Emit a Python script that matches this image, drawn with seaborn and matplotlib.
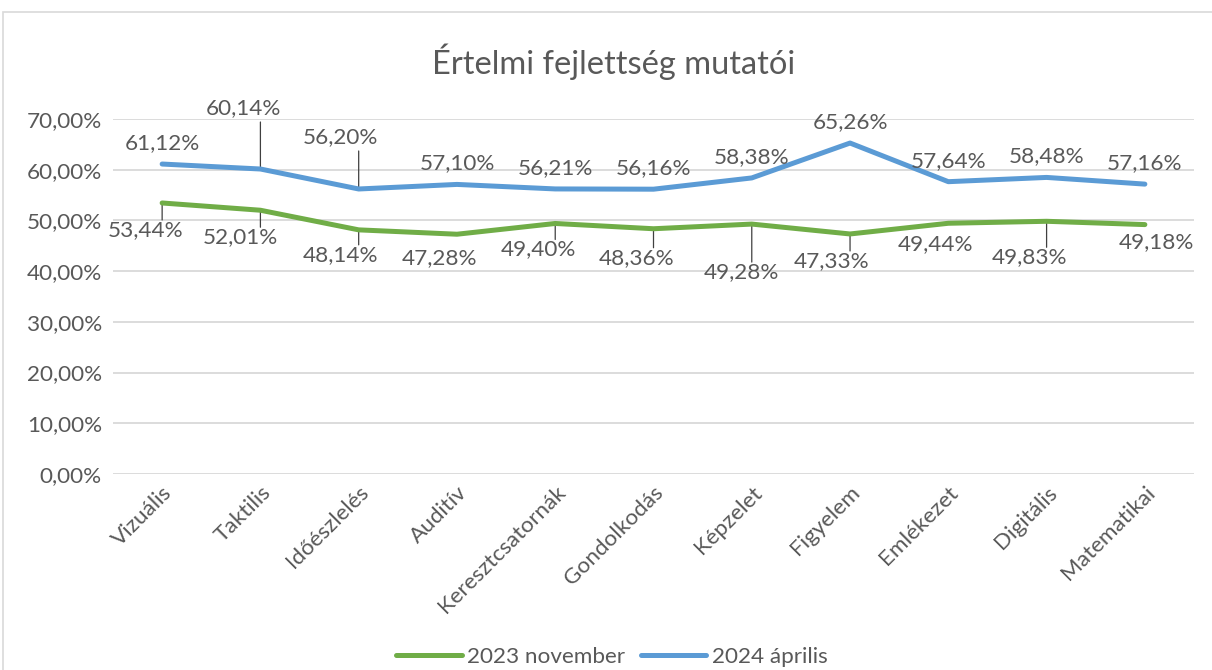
import numpy as np
import pandas as pd
import matplotlib
matplotlib.use("Agg")
import matplotlib.pyplot as plt
import matplotlib.transforms as mtransforms
from matplotlib.patches import Rectangle
from matplotlib.lines import Line2D
import seaborn as sns

# ---- data ----
categories = ["Vizuális", "Taktilis", "Időészlelés", "Auditív", "Keresztcsatornák",
              "Gondolkodás", "Képzelet", "Figyelem", "Emlékezet", "Digitális", "Matematikai"]
nov2023 = [53.44, 52.01, 48.14, 47.28, 49.40, 48.36, 49.28, 47.33, 49.44, 49.83, 49.18]
apr2024 = [61.12, 60.14, 56.20, 57.10, 56.21, 56.16, 58.38, 65.26, 57.64, 58.48, 57.16]
series_names = ["2023 november", "2024 április"]
y_ticks = [0, 10, 20, 30, 40, 50, 60, 70]

# ---- label placement (pixel offsets, leader flags) ----
green_off = [(-17, -27), (-20, -27), (-18, -25), (-17, -24), (-17, -26), (-17, -29),
             (-10, -48), (-19, -27), (-13, -21), (-17, -36), (12, -18)]
green_lead = [1, 1, 1, 0, 1, 1, 1, 1, 0, 1, 0]
blue_off = [(0, 21), (-17, 61), (-18, 52), (0, 21), (0, 21), (0, 21),
            (0, 21), (0, 21), (0, 21), (0, 21), (0, 21)]
blue_lead = [0, 1, 1, 0, 0, 0, 0, 0, 0, 0, 0]

sns.set_theme(style="white")
plt.rcParams["font.family"] = ["Lato", "DejaVu Sans"]

TXT = "#595959"
GREEN = "#70AD47"
BLUE = "#5B9BD5"
GRID = "#D9D9D9"
FS = 16.2

W, H = 1212, 670
fig = plt.figure(figsize=(W / 100, H / 100), dpi=100)
ax = fig.add_axes([113 / W, 1 - 474 / H, (1194 - 113) / W, (474 - 119) / H])

pos = np.arange(len(categories))
df = pd.DataFrame({
    "pos": np.concatenate([pos, pos]),
    "value": nov2023 + apr2024,
    "series": [series_names[0]] * len(pos) + [series_names[1]] * len(pos),
})
sns.lineplot(data=df, x="pos", y="value", hue="series", hue_order=series_names,
             palette=[GREEN, BLUE], linewidth=3.6, ax=ax, sort=False,
             legend=False, solid_capstyle="round", solid_joinstyle="round")

ax.set_xlim(-0.5, len(categories) - 0.5)
ax.set_ylim(0, 70)
ax.set_yticks(y_ticks)
ax.set_yticklabels([f"{v:.2f}%".replace(".", ",") for v in y_ticks], color=TXT, fontsize=FS)
ax.yaxis.grid(True, color=GRID, linewidth=1.3)
ax.set_axisbelow(True)
ax.set_xticks(pos)
ax.set_xticklabels(categories, rotation=45, ha="right", rotation_mode="anchor",
                   color=TXT, fontsize=FS)
off = mtransforms.ScaledTranslation(10 / 100, 0, fig.dpi_scale_trans)
for lab in ax.get_xticklabels():
    lab.set_transform(lab.get_transform() + off)
ax.tick_params(axis="both", length=0, pad=6)
ax.tick_params(axis="y", pad=8)
for s in ax.spines.values():
    s.set_visible(False)
ax.set_xlabel("")
ax.set_ylabel("")


def fmt(v):
    return f"{v:.2f}%".replace(".", ",")


def put_labels(vals, offs, leads, below):
    for i, v in enumerate(vals):
        dx, dy = offs[i]
        ax.annotate(fmt(v), xy=(pos[i], v), xytext=(dx, dy), textcoords="offset pixels",
                    ha="center", va="center", fontsize=FS, color=TXT, zorder=5)
        if leads[i]:
            length = (abs(dy) - 10) if below else (dy - 14)
            ax.annotate("", xy=(pos[i], v), xytext=(0, -length if below else length),
                        textcoords="offset pixels",
                        arrowprops=dict(arrowstyle="-", color="#404040", lw=0.9,
                                        shrinkA=0, shrinkB=0), zorder=1)


put_labels(nov2023, green_off, green_lead, True)
put_labels(apr2024, blue_off, blue_lead, False)

fig.text(614 / W, 1 - 62 / H, "Értelmi fejlettség mutatói", ha="center", va="center",
         fontsize=23.5, color=TXT)

handles = [Line2D([], [], color=GREEN, lw=3.6, solid_capstyle="round"),
           Line2D([], [], color=BLUE, lw=3.6, solid_capstyle="round")]
fig.legend(handles, series_names, loc="center", bbox_to_anchor=(612 / W, 1 - 657 / H),
           ncol=2, frameon=False, fontsize=FS, labelcolor=TXT, handlelength=2.9,
           handletextpad=0.25, columnspacing=0.7)

fig.patches.append(Rectangle((3 / W, -0.1), 1.2, 1 - 12 / H + 0.1, transform=fig.transFigure,
                             fill=False, edgecolor=GRID, linewidth=1.2))

fig.savefig("out.png", dpi=100, facecolor="white")
